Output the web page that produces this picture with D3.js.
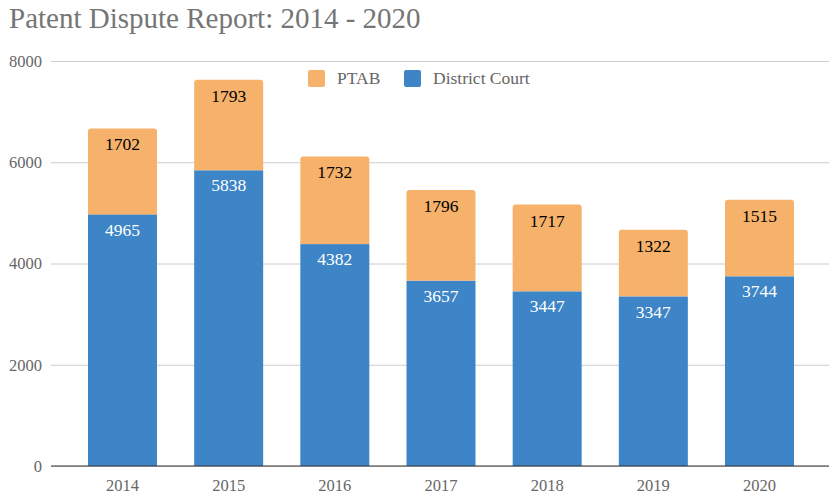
<!DOCTYPE html>
<html>
<head>
<meta charset="utf-8">
<script src="https://cdn.jsdelivr.net/npm/d3@7"></script>
<style>
  body { margin: 0; background: #fff; }
  text { font-family: "Liberation Serif", "Times New Roman", serif; }
</style>
</head>
<body>
<div id="chart"></div>
<script>
// Chart data
const years = ['2014', '2015', '2016', '2017', '2018', '2019', '2020'];
const districtCourt = [4965, 5838, 4382, 3657, 3447, 3347, 3744];
const ptab = [1702, 1793, 1732, 1796, 1717, 1322, 1515];
const yTicks = [0, 2000, 4000, 6000, 8000];

const width = 840,
      height = 501,
      margin = {top: 61, right: 11, bottom: 35, left: 51};

const blue = '#3d85c6', orange = '#f6b26b';

const x = d3.scaleBand()
    .domain(years)
    .range([52, 830])
    .paddingInner(0.35)
    .paddingOuter(0.339);

const y = d3.scaleLinear()
    .domain([0, 8000])
    .range([height - margin.bottom, margin.top]);

const svg = d3.select('#chart').append('svg')
    .attr('width', width)
    .attr('height', height);

// Title
svg.append('text')
   .attr('x', 9)
   .attr('y', 28)
   .attr('font-size', 29)
   .attr('fill', '#757575')
   .text('Patent Dispute Report: 2014 - 2020');

// Grid lines
svg.append('g')
   .attr('transform', `translate(${margin.left},0)`)
   .call(d3.axisLeft(y)
           .tickValues(yTicks)
           .tickSize(-(width - margin.left - margin.right))
           .tickFormat(''))
   .call(g => g.select('.domain').remove())
   .call(g => g.selectAll('line').attr('stroke', '#cccccc'));

// Y labels
svg.append('g')
   .selectAll('text')
   .data(yTicks)
   .join('text')
     .attr('x', 42)
     .attr('y', d => y(d))
     .attr('dy', '0.35em')
     .attr('text-anchor', 'end')
     .attr('font-size', 16.5)
     .attr('fill', '#666')
     .text(d => d);

// Stack
const rows = years.map((yr, i) => ({year: yr, district: districtCourt[i], ptab: ptab[i]}));
const stack = d3.stack().keys(['district', 'ptab'])(rows);

const r = 3;
// PTAB segment with rounded top corners
svg.append('g')
   .selectAll('path')
   .data(stack[1])
   .join('path')
     .attr('fill', orange)
     .attr('d', d => {
       const x0 = x(d.data.year), x1 = x0 + x.bandwidth();
       const yt = y(d[1]), yb = y(d[0]);
       return `M${x0},${yb}V${yt + r}Q${x0},${yt} ${x0 + r},${yt}H${x1 - r}Q${x1},${yt} ${x1},${yt + r}V${yb}Z`;
     });

svg.append('g')
   .selectAll('rect')
   .data(stack[0])
   .join('rect')
     .attr('fill', blue)
     .attr('x', d => x(d.data.year))
     .attr('width', x.bandwidth())
     .attr('y', d => y(d[1]))
     .attr('height', d => y(d[0]) - y(d[1]));

// Value labels
svg.append('g')
   .selectAll('text')
   .data(stack[1])
   .join('text')
     .attr('x', d => x(d.data.year) + x.bandwidth() / 2)
     .attr('y', d => y(d[1]) + 22)
     .attr('text-anchor', 'middle')
     .attr('font-size', 17.5)
     .attr('fill', '#000')
     .text(d => d.data.ptab);

svg.append('g')
   .selectAll('text')
   .data(stack[0])
   .join('text')
     .attr('x', d => x(d.data.year) + x.bandwidth() / 2)
     .attr('y', d => y(d[1]) + 21)
     .attr('text-anchor', 'middle')
     .attr('font-size', 17.5)
     .attr('fill', '#fff')
     .text(d => d.data.district);

// Baseline
svg.append('line')
   .attr('x1', margin.left)
   .attr('x2', width - margin.right)
   .attr('y1', y(0))
   .attr('y2', y(0))
   .attr('stroke', '#333')
   .attr('stroke-width', 1.2);

// X labels
svg.append('g')
   .selectAll('text')
   .data(years)
   .join('text')
     .attr('x', d => x(d) + x.bandwidth() / 2)
     .attr('y', 491)
     .attr('text-anchor', 'middle')
     .attr('font-size', 16.5)
     .attr('fill', '#666')
     .text(d => d);

// Legend
const legend = [{label: 'PTAB', color: orange, x: 308}, {label: 'District Court', color: blue, x: 404}];
const lg = svg.append('g').selectAll('g').data(legend).join('g')
   .attr('transform', d => `translate(${d.x},70)`);
lg.append('rect')
   .attr('width', 17).attr('height', 17).attr('rx', 2)
   .attr('fill', d => d.color);
lg.append('text')
   .attr('x', 29).attr('y', 14)
   .attr('font-size', 17.5)
   .attr('fill', '#666')
   .text(d => d.label);
</script>
</body>
</html>
